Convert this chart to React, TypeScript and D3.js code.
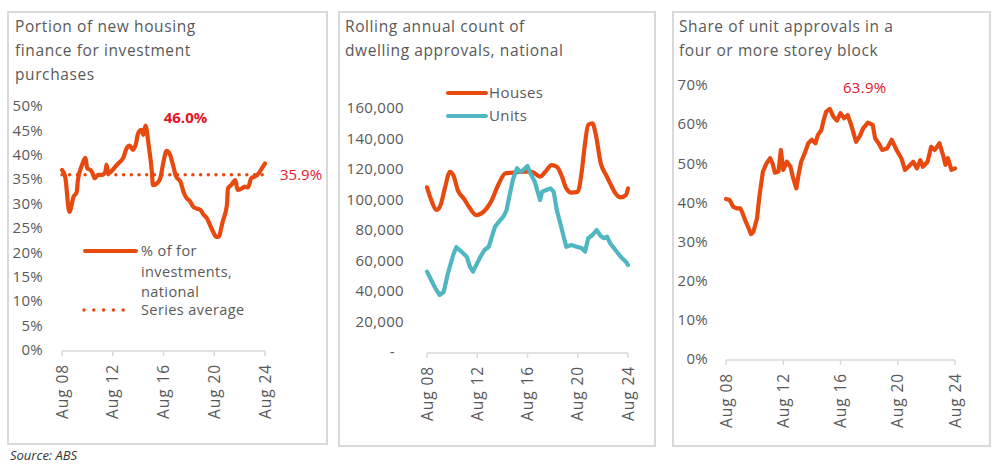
import React from "react";
import * as d3 from "d3";

// ---------- Data ----------
const tickDates = ["2008-08", "2012-08", "2016-08", "2020-08", "2024-08"];
const tickLabels = ["Aug 08", "Aug 12", "Aug 16", "Aug 20", "Aug 24"];

// Chart 1: % of new housing finance for investment
const invDates = ["2008-08","2008-11","2009-03","2009-07","2009-10","2009-11","2010-03","2010-06","2010-08","2010-11","2011-01","2011-03","2011-06","2011-10","2012-01","2012-02","2012-04","2012-09","2013-01","2013-06","2013-09","2013-12","2014-03","2014-06","2014-08","2014-11","2015-01","2015-03","2015-06","2015-09","2015-10","2016-02","2016-05","2016-08","2016-11","2017-02","2017-05","2017-08","2017-12","2018-03","2018-06","2018-09","2018-12","2019-03","2019-07","2019-10","2020-01","2020-04","2020-07","2020-10","2020-12","2021-04","2021-08","2021-09","2021-12","2022-04","2022-06","2022-10","2023-01","2023-04","2023-07","2023-10","2024-02","2024-05","2024-08"];
const invValues = [36.9,35.5,28.3,31.4,32.4,34.8,37.9,39.4,37.2,36.9,36.2,35.2,35.9,35.9,36.5,38.0,36.2,37.2,38.2,39.4,41.3,41.9,41.0,42.3,44.4,45.1,44.1,46.0,42.0,36.5,33.8,34.2,35.2,38.6,40.8,40.1,37.9,35.5,34.5,32.4,31.1,30.5,29.4,29.0,28.7,27.7,27.0,25.6,24.2,23.2,23.2,26.3,29.7,33.1,33.8,34.8,32.8,33.1,33.5,33.3,35.2,35.5,36.2,37.2,38.2];
const invAverage = 35.9;
const invTicks = [0,5,10,15,20,25,30,35,40,45,50];

// Chart 2: rolling annual dwelling approvals
const houseDates = ["2008-08","2008-12","2009-05","2009-09","2010-01","2010-06","2010-09","2011-02","2011-07","2012-01","2012-07","2012-12","2013-05","2013-10","2014-04","2014-11","2015-06","2016-04","2016-12","2017-08","2018-01","2018-07","2018-12","2019-05","2019-09","2020-02","2020-08","2020-12","2021-03","2021-06","2021-10","2022-01","2022-06","2022-11","2023-03","2023-08","2024-01","2024-06","2024-08"];
const houseValues = [108000,99700,93100,96400,107300,118200,116000,105100,100800,94200,89800,90900,94200,99700,109500,117200,117600,118200,118200,115000,118200,122600,121500,115000,107300,104500,105100,119300,136900,148900,150000,143400,123700,116100,110600,104100,101400,102900,107300];
const unitDates = ["2008-08","2008-12","2009-04","2009-08","2009-12","2010-04","2010-09","2010-12","2011-05","2011-10","2012-01","2012-04","2012-07","2012-11","2013-03","2013-07","2013-10","2014-01","2014-06","2014-09","2014-12","2015-03","2015-06","2015-10","2016-01","2016-04","2016-08","2016-10","2017-03","2017-08","2017-10","2018-02","2018-06","2018-09","2018-12","2019-05","2019-09","2020-02","2020-07","2020-12","2021-03","2021-06","2021-10","2022-02","2022-06","2022-09","2022-12","2023-03","2023-08","2024-01","2024-06","2024-08"];
const unitValues = [52700,47200,41800,37400,39500,51600,63600,68700,65800,62500,55900,52700,57000,62500,66900,69000,75600,82200,86600,88700,93100,103000,112800,120500,118200,119300,122000,118200,111700,99700,105100,106200,107300,105100,93100,80000,69000,70200,69000,68000,65800,74600,76700,80000,76100,74600,75600,71300,66900,62500,59200,57000];
const approvalTicks = [0,20000,40000,60000,80000,100000,120000,140000,160000];

// Chart 3: share of unit approvals in 4+ storey block
const shareDates = ["2008-08","2008-11","2009-02","2009-05","2009-08","2009-10","2009-12","2010-03","2010-05","2010-07","2010-10","2010-12","2011-03","2011-06","2011-09","2011-11","2012-01","2012-04","2012-06","2012-08","2012-11","2013-02","2013-04","2013-07","2013-09","2013-11","2014-02","2014-05","2014-08","2014-11","2015-01","2015-04","2015-06","2015-08","2015-11","2016-02","2016-05","2016-08","2016-11","2017-02","2017-05","2017-09","2017-12","2018-03","2018-07","2018-11","2019-01","2019-04","2019-07","2019-11","2020-03","2020-07","2020-11","2021-02","2021-05","2021-09","2021-12","2022-03","2022-05","2022-09","2022-12","2023-03","2023-07","2023-10","2023-12","2024-02","2024-05","2024-08"];
const shareValues = [40.9,40.6,38.9,38.5,38.5,37.2,35.5,33.4,31.9,32.5,35.9,41.5,47.9,50.0,51.3,50.0,47.6,47.9,53.4,48.3,50.4,49.1,46.6,43.6,47.4,50.4,52.6,55.1,56.0,55.1,57.2,58.5,61.1,63.2,63.9,61.9,60.9,62.8,61.5,62.3,59.8,55.5,56.8,58.9,60.4,59.8,56.4,55.1,53.4,53.8,56.0,53.4,51.3,48.3,49.1,50.4,48.7,50.8,49.1,50.4,54.2,53.4,55.1,52.1,49.6,51.3,48.3,48.7];
const shareTicks = [0,10,20,30,40,50,60,70];

// ---------- Styling ----------
const ORANGE = "#E8490F";
const TEAL = "#4FB6C2";
const RED = "#E3152B";
const TEXT = "#595959";
const GRID = "#D9D9D9";
const FONT = "'Open Sans', sans-serif";

const parse = d3.timeParse("%Y-%m");
const toPts = (dates: string[], vals: number[]) => dates.map((d, i) => ({ d: parse(d) as Date, v: vals[i] }));

function XAxis({ x, y0 }: { x: d3.ScaleTime<number, number>; y0: number }) {
  const [a, b] = x.range();
  return (
    <g>
      <line x1={a} x2={b} y1={y0} y2={y0} stroke={GRID} strokeWidth={1.5} />
      {tickDates.map((t, i) => {
        const px = x(parse(t) as Date);
        return (
          <g key={t}>
            <line x1={px} x2={px} y1={y0} y2={y0 + 5} stroke={GRID} strokeWidth={1.5} />
            <text
              transform={`translate(${px + 5.5},${y0 + 13}) rotate(-90)`}
              textAnchor="end"
              fontSize={15.5}
              letterSpacing={0.9}
              fill={TEXT}
              fontFamily={FONT}
            >
              {tickLabels[i]}
            </text>
          </g>
        );
      })}
    </g>
  );
}

function YLabels({ y, ticks, xRight, fmt }: { y: d3.ScaleLinear<number, number>; ticks: number[]; xRight: number; fmt: (v: number) => string }) {
  return (
    <g>
      {ticks.map((t) => (
        <text key={t} x={t === 0 && fmt(t) === "-" ? xRight - 9 : xRight} y={y(t)} dy="0.35em" textAnchor="end" fontSize={15} letterSpacing={0.3} fill={TEXT} fontFamily={FONT}>
          {fmt(t)}
        </text>
      ))}
    </g>
  );
}

function Title({ x, y, lines }: { x: number; y: number; lines: string[] }) {
  return (
    <text x={x} y={y} fontSize={15.5} letterSpacing={0.6} fill={TEXT} fontFamily={FONT}>
      {lines.map((l, i) => (
        <tspan key={i} x={x} dy={i === 0 ? 0 : 24}>
          {l}
        </tspan>
      ))}
    </text>
  );
}

export default function App() {
  const xDomain = [parse("2008-08") as Date, parse("2024-08") as Date];

  // Chart 1
  const x1 = d3.scaleTime().domain(xDomain).range([62, 265]);
  const y1 = d3.scaleLinear().domain([0, 50]).range([350, 106]);
  const inv = toPts(invDates, invValues);
  const line1 = d3.line<{ d: Date; v: number }>().x((p) => x1(p.d)).y((p) => y1(p.v)).curve(d3.curveMonotoneX);
  const avgLine = d3.line<Date>().x((d) => x1(d)).y(() => y1(invAverage));

  // Chart 2
  const x2 = d3.scaleTime().domain(xDomain).range([427, 628]);
  const y2 = d3.scaleLinear().domain([0, 160000]).range([352, 108]);
  const houses = toPts(houseDates, houseValues);
  const units = toPts(unitDates, unitValues);
  const line2 = d3.line<{ d: Date; v: number }>().x((p) => x2(p.d)).y((p) => y2(p.v)).curve(d3.curveMonotoneX);
  const line2u = d3.line<{ d: Date; v: number }>().x((p) => x2(p.d)).y((p) => y2(p.v)).curve(d3.curveLinear);

  // Chart 3
  const x3 = d3.scaleTime().domain(xDomain).range([726, 955]);
  const y3 = d3.scaleLinear().domain([0, 70]).range([359, 85]);
  const share = toPts(shareDates, shareValues);
  const line3 = d3.line<{ d: Date; v: number }>().x((p) => x3(p.d)).y((p) => y3(p.v)).curve(d3.curveLinear);
  const maxShare = share.reduce((m, p) => (p.v > m.v ? p : m), share[0]);
  const maxInv = inv.reduce((m, p) => (p.v > m.v ? p : m), inv[0]);

  const pct = (v: number) => `${v}%`;
  const num = (v: number) => (v === 0 ? "-" : d3.format(",")(v));

  return (
    <svg width={1002} height={470} style={{ position: "absolute", left: 0, top: 0, background: "#fff" }}>
      <rect x={0} y={0} width={1002} height={470} fill="#fff" />
      {/* Panel borders */}
      <rect x={8} y={12} width={319} height={432} fill="none" stroke={GRID} strokeWidth={2} />
      <rect x={339} y={12} width={316} height={434} fill="none" stroke={GRID} strokeWidth={2} />
      <rect x={673} y={12} width={317} height={434} fill="none" stroke={GRID} strokeWidth={2} />

      {/* Chart 1 */}
      <Title x={15} y={32} lines={["Portion of new housing", "finance for investment", "purchases"]} />
      <YLabels y={y1} ticks={invTicks} xRight={43} fmt={pct} />
      <XAxis x={x1} y0={351} />
      <path d={avgLine([parse("2008-08") as Date, parse("2024-08") as Date]) || ""} fill="none" stroke={ORANGE} strokeWidth={3.5} strokeLinecap="round" strokeDasharray="0 7.7" />
      <path d={line1(inv) || ""} fill="none" stroke={ORANGE} strokeWidth={4.2} strokeLinejoin="round" strokeLinecap="round" />
      <text x={x1(maxInv.d) + 40} y={y1(maxInv.v) - 3} textAnchor="middle" fontSize={15} fontWeight="bold" fill={RED} fontFamily={FONT}>
        {maxInv.v.toFixed(1)}%
      </text>
      <text x={280} y={y1(invAverage)} dy="0.35em" fontSize={15} fill={RED} fontFamily={FONT}>
        {invAverage.toFixed(1)}%
      </text>
      {/* Legend 1 */}
      <line x1={85} x2={136} y1={251} y2={251} stroke={ORANGE} strokeWidth={4} strokeLinecap="round" />
      <text x={141} y={251} fontSize={14.5} letterSpacing={0.4} fill={TEXT} fontFamily={FONT}>
        <tspan x={141} dy="0.35em">% of for</tspan>
        <tspan x={141} dy={20.5}>investments,</tspan>
        <tspan x={141} dy={20.5}>national</tspan>
      </text>
      <line x1={84} x2={133} y1={310} y2={310} stroke={ORANGE} strokeWidth={3.5} strokeLinecap="round" strokeDasharray="0 9.8" />
      <text x={141} y={310} dy="0.35em" fontSize={14.5} letterSpacing={0.4} fill={TEXT} fontFamily={FONT}>Series average</text>

      {/* Chart 2 */}
      <Title x={345} y={32} lines={["Rolling annual count of", "dwelling approvals, national"]} />
      <YLabels y={y2} ticks={approvalTicks} xRight={404} fmt={num} />
      <XAxis x={x2} y0={353} />
      <path d={line2(houses) || ""} fill="none" stroke={ORANGE} strokeWidth={4.2} strokeLinejoin="round" strokeLinecap="round" />
      <path d={line2u(units) || ""} fill="none" stroke={TEAL} strokeWidth={4.2} strokeLinejoin="round" strokeLinecap="round" />
      <line x1={448} x2={486} y1={93} y2={93} stroke={ORANGE} strokeWidth={4} strokeLinecap="round" />
      <text x={489} y={93} dy="0.35em" fontSize={15} letterSpacing={0.4} fill={TEXT} fontFamily={FONT}>Houses</text>
      <line x1={448} x2={486} y1={116} y2={116} stroke={TEAL} strokeWidth={4} strokeLinecap="round" />
      <text x={489} y={116} dy="0.35em" fontSize={15} letterSpacing={0.4} fill={TEXT} fontFamily={FONT}>Units</text>

      {/* Chart 3 */}
      <Title x={679} y={32} lines={["Share of unit approvals in a", "four or more storey block"]} />
      <YLabels y={y3} ticks={shareTicks} xRight={708} fmt={pct} />
      <XAxis x={x3} y0={360} />
      <path d={line3(share) || ""} fill="none" stroke={ORANGE} strokeWidth={4.2} strokeLinejoin="round" strokeLinecap="round" />
      <text x={x3(maxShare.d) + 35} y={y3(maxShare.v) - 16} textAnchor="middle" fontSize={15} letterSpacing={0.3} fill={RED} fontFamily={FONT}>
        {maxShare.v.toFixed(1)}%
      </text>

      <text x={10} y={460} fontSize={13} fontStyle="italic" fill="#333" fontFamily={FONT}>Source: ABS</text>
    </svg>
  );
}
